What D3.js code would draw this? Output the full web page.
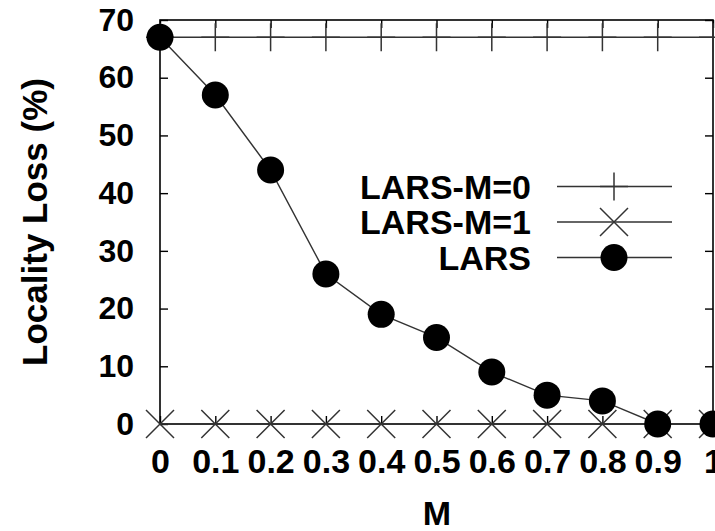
<!DOCTYPE html>
<html><head><meta charset="utf-8">
<script src="https://cdn.jsdelivr.net/npm/d3@7"></script>
<style>body{margin:0;background:#fff}svg{display:block}text{font-family:"Liberation Sans",Arial,sans-serif;font-weight:bold;fill:#000}</style>
</head><body><svg id="c" width="715" height="531"></svg>
<script>
const mValues = [0, 0.1, 0.2, 0.3, 0.4, 0.5, 0.6, 0.7, 0.8, 0.9, 1];
const xTickLabels = ["0","0.1","0.2","0.3","0.4","0.5","0.6","0.7","0.8","0.9","1"];
const yTicks = [0, 10, 20, 30, 40, 50, 60, 70];
const larsM0 = [67, 67, 67, 67, 67, 67, 67, 67, 67, 67, 67];
const larsM1 = [0, 0, 0, 0, 0, 0, 0, 0, 0, 0, 0];
const lars = [67, 57, 44, 26, 19, 15, 9, 5, 4, 0, 0];
const seriesNames = ["LARS-M=0", "LARS-M=1", "LARS"];

const svg = d3.select("#c");
const L = 160, R = 713, T = 20, B = 424;
const x = d3.scaleLinear().domain([0, 1]).range([L, R]);
const y = d3.scaleLinear().domain([0, 70]).range([B, T]);

// border
svg.append("rect").attr("x", L).attr("y", T).attr("width", R - L).attr("height", B - T)
  .attr("fill", "none").attr("stroke", "#000").attr("stroke-width", 1.6);

// axes with inward ticks
const ax = svg.append("g");
const gx = ax.append("g").attr("transform", `translate(0,${B})`)
  .call(d3.axisBottom(x).tickValues(mValues).tickSize(-8).tickPadding(25).tickFormat((d, i) => xTickLabels[i]))
  .call(g => g.select(".domain").remove());
gx.selectAll(".tick text").attr("font-size", 34);
ax.append("g").attr("transform", `translate(0,${T})`)
  .call(d3.axisTop(x).tickValues(mValues).tickSize(-8).tickFormat(""))
  .call(g => g.select(".domain").remove());
const gy = ax.append("g").attr("transform", `translate(${L},0)`)
  .call(d3.axisLeft(y).tickValues(yTicks).tickSize(-8).tickPadding(26))
  .call(g => g.select(".domain").remove());
gy.selectAll(".tick text").attr("font-size", 32);
ax.append("g").attr("transform", `translate(${R},0)`)
  .call(d3.axisRight(y).tickValues(yTicks).tickSize(-8).tickFormat(""))
  .call(g => g.select(".domain").remove());
ax.selectAll(".tick line").attr("stroke", "#000").attr("stroke-width", 1.4);
ax.selectAll(".tick text").attr("font-family", "Liberation Sans, Arial, sans-serif").attr("font-weight", "bold").attr("fill", "#000");

// axis titles
svg.append("text").attr("x", 437).attr("y", 525).attr("text-anchor", "middle").attr("font-size", 34).text("M");
svg.append("text").attr("transform", "translate(47,222) rotate(-90)").attr("text-anchor", "middle")
  .attr("font-size", 35).text("Locality Loss (%)");

const line = d3.line().x((d, i) => x(mValues[i])).y(d => y(d));
const lineCol = "#333";
const plus = (g, cx, cy, s) => g.append("path").attr("d", `M${cx - s},${cy}H${cx + s}M${cx},${cy - s}V${cy + s}`)
  .attr("stroke", lineCol).attr("stroke-width", 1.5).attr("fill", "none");
const cross = (g, cx, cy, s) => g.append("path").attr("d", `M${cx - s},${cy - s}L${cx + s},${cy + s}M${cx - s},${cy + s}L${cx + s},${cy - s}`)
  .attr("stroke", lineCol).attr("stroke-width", 1.5).attr("fill", "none");

const plot = svg.append("g");
// LARS-M=0
plot.append("path").datum(larsM0).attr("d", line).attr("fill", "none").attr("stroke", lineCol).attr("stroke-width", 1.4);
larsM0.forEach((v, i) => plus(plot, x(mValues[i]), y(v), 14));
// LARS-M=1
plot.append("path").datum(larsM1).attr("d", line).attr("fill", "none").attr("stroke", lineCol).attr("stroke-width", 1.4);
larsM1.forEach((v, i) => cross(plot, x(mValues[i]), y(v), 14));
// LARS
plot.append("path").datum(lars).attr("d", line).attr("fill", "none").attr("stroke", lineCol).attr("stroke-width", 1.4);
plot.selectAll("circle.l").data(lars).enter().append("circle")
  .attr("cx", (d, i) => x(mValues[i])).attr("cy", d => y(d)).attr("r", 13.5).attr("fill", "#000");

// legend
const lg = svg.append("g");
const rowY = [186.5, 222, 257.5];
seriesNames.forEach((n, i) => {
  lg.append("text").attr("x", 531).attr("y", rowY[i]).attr("dy", "0.36em").attr("text-anchor", "end").attr("font-size", 34).text(n);
  lg.append("line").attr("x1", 557).attr("x2", 672).attr("y1", rowY[i]).attr("y2", rowY[i]).attr("stroke", lineCol).attr("stroke-width", 1.4);
  if (i === 0) plus(lg, 614, rowY[i], 14);
  if (i === 1) cross(lg, 614, rowY[i], 14);
  if (i === 2) lg.append("circle").attr("cx", 614).attr("cy", rowY[i]).attr("r", 13.5).attr("fill", "#000");
});
</script></body></html>
